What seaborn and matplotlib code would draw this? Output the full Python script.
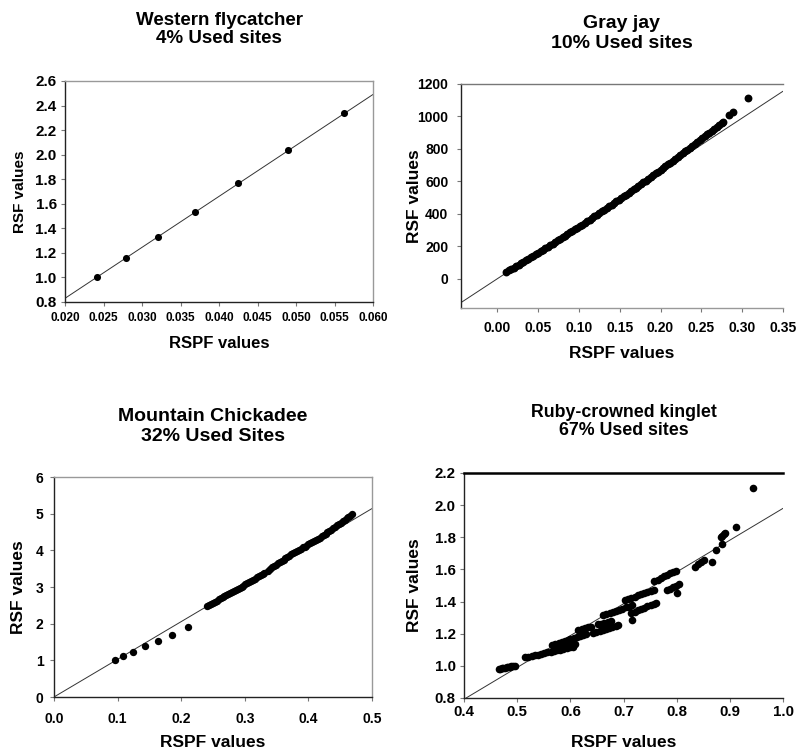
import matplotlib
matplotlib.use("Agg")
import matplotlib.pyplot as plt
import seaborn as sns
import pandas as pd

# Western flycatcher (4% used sites)
wf_rspf = [0.0241, 0.0279, 0.0321, 0.0369, 0.0425, 0.0489, 0.0562]
wf_rsf = [1.00, 1.155, 1.33, 1.53, 1.765, 2.035, 2.34]

# Gray jay (10% used sites) - dense band read along the curve, then 3 outliers
gj_rspf = [0.011, 0.014, 0.017, 0.020, 0.023, 0.026, 0.029, 0.032, 0.035, 0.038,
           0.041, 0.044, 0.047, 0.050, 0.053, 0.056, 0.059, 0.062, 0.065, 0.068,
           0.071, 0.074, 0.077, 0.080, 0.083, 0.086, 0.089, 0.092, 0.095, 0.098,
           0.101, 0.104, 0.107, 0.110, 0.113, 0.116, 0.119, 0.122, 0.125, 0.128,
           0.131, 0.134, 0.137, 0.140, 0.143, 0.146, 0.149, 0.152, 0.155, 0.158,
           0.161, 0.164, 0.167, 0.170, 0.173, 0.176, 0.179, 0.182, 0.185, 0.188,
           0.191, 0.194, 0.197, 0.200, 0.203, 0.206, 0.209, 0.212, 0.215, 0.218,
           0.221, 0.224, 0.227, 0.230, 0.233, 0.236, 0.239, 0.242, 0.245, 0.248,
           0.251, 0.254, 0.257, 0.260, 0.263, 0.266, 0.269, 0.272, 0.275, 0.277,
           0.284, 0.289, 0.307]
gj_rsf = [42, 51, 60, 69, 78, 87, 96, 105, 114, 123,
          133, 142, 151, 160, 170, 179, 188, 198, 207, 217,
          227, 236, 246, 255, 265, 275, 285, 294, 304, 314,
          324, 334, 344, 354, 364, 374, 384, 394, 405, 415,
          425, 436, 446, 456, 467, 477, 488, 498, 509, 519,
          530, 541, 551, 562, 573, 584, 594, 605, 616, 627,
          638, 649, 660, 671, 682, 694, 705, 716, 727, 739,
          750, 761, 773, 784, 796, 807, 819, 830, 842, 854,
          865, 877, 889, 901, 912, 924, 936, 948, 960, 968,
          1009, 1030, 1112]

# Mountain chickadee (32% used sites)
mc_rspf = [0.096, 0.109, 0.125, 0.143, 0.163, 0.186, 0.210,
           0.241, 0.244, 0.247, 0.250, 0.253, 0.256, 0.259, 0.262, 0.265, 0.268,
           0.271, 0.274, 0.277, 0.280, 0.283, 0.286, 0.289, 0.292, 0.295, 0.298,
           0.301, 0.304, 0.307, 0.310, 0.313, 0.316, 0.319, 0.322, 0.325, 0.328,
           0.331, 0.337, 0.340, 0.343, 0.346, 0.349, 0.352, 0.355, 0.358,
           0.361, 0.364, 0.367, 0.370, 0.373, 0.376, 0.379, 0.382, 0.385, 0.388,
           0.391, 0.394, 0.397, 0.400, 0.403, 0.406, 0.409, 0.412, 0.415, 0.418,
           0.421, 0.424, 0.427, 0.430, 0.433, 0.436, 0.439, 0.442, 0.445, 0.448,
           0.451, 0.454, 0.457, 0.460, 0.463, 0.466, 0.469]
mc_rsf = [1.00, 1.11, 1.24, 1.38, 1.53, 1.70, 1.90,
          2.47, 2.50, 2.53, 2.56, 2.59, 2.63, 2.66, 2.69, 2.72, 2.75,
          2.78, 2.81, 2.84, 2.87, 2.90, 2.92, 2.95, 2.98, 3.01, 3.04,
          3.07, 3.10, 3.13, 3.17, 3.20, 3.23, 3.26, 3.29, 3.32, 3.36,
          3.39, 3.45, 3.50, 3.54, 3.58, 3.61, 3.65, 3.68, 3.72,
          3.75, 3.79, 3.82, 3.85, 3.89, 3.92, 3.95, 3.98, 4.02, 4.05,
          4.08, 4.10, 4.13, 4.16, 4.19, 4.22, 4.25, 4.28, 4.31, 4.34,
          4.38, 4.42, 4.45, 4.49, 4.53, 4.56, 4.60, 4.64, 4.68, 4.72,
          4.75, 4.79, 4.83, 4.87, 4.90, 4.94, 4.98]

# Ruby-crowned kinglet (67% used sites)
rk_rspf = [0.465, 0.468, 0.471, 0.474, 0.477, 0.480, 0.483, 0.486, 0.489, 0.492, 0.495,
           0.515, 0.521, 0.527, 0.533, 0.539, 0.545, 0.551, 0.557, 0.563, 0.569,
           0.575, 0.581, 0.587, 0.593, 0.599, 0.605,
           0.566, 0.572, 0.578, 0.584, 0.590, 0.596,
           0.572, 0.578, 0.584, 0.590, 0.596, 0.602, 0.609,
           0.600, 0.606, 0.612, 0.618, 0.624, 0.630,
           0.615, 0.621, 0.627, 0.633, 0.639,
           0.643, 0.649, 0.655, 0.661, 0.667, 0.673, 0.679, 0.685, 0.690,
           0.652, 0.658, 0.664, 0.670, 0.676,
           0.662, 0.668, 0.674, 0.680, 0.686, 0.692, 0.698, 0.704, 0.710, 0.716,
           0.715, 0.721, 0.727, 0.733, 0.739, 0.745, 0.751, 0.757, 0.762, 0.716,
           0.703, 0.709, 0.715, 0.721, 0.727, 0.733, 0.739, 0.745, 0.751, 0.757,
           0.758, 0.764, 0.770, 0.776, 0.782, 0.788, 0.794, 0.798,
           0.781, 0.787, 0.793, 0.799, 0.805, 0.801,
           0.834, 0.840, 0.846, 0.852, 0.867, 0.874, 0.885,
           0.883, 0.886, 0.889, 0.891, 0.912, 0.944]
rk_rsf = [0.980, 0.982, 0.984, 0.986, 0.988, 0.990, 0.992, 0.994, 0.996, 0.998, 1.000,
          1.055, 1.058, 1.062, 1.066, 1.070, 1.074, 1.078, 1.083, 1.088, 1.092,
          1.097, 1.101, 1.106, 1.110, 1.115, 1.120,
          1.130, 1.136, 1.142, 1.148, 1.153, 1.158,
          1.112, 1.118, 1.124, 1.130, 1.136, 1.142, 1.135,
          1.165, 1.172, 1.178, 1.184, 1.190, 1.195,
          1.222, 1.228, 1.234, 1.240, 1.244,
          1.205, 1.210, 1.216, 1.222, 1.228, 1.234, 1.240, 1.246, 1.252,
          1.258, 1.263, 1.268, 1.273, 1.279,
          1.317, 1.324, 1.330, 1.337, 1.343, 1.350, 1.356, 1.363, 1.369, 1.376,
          1.330, 1.338, 1.346, 1.354, 1.362, 1.370, 1.378, 1.385, 1.392, 1.285,
          1.410, 1.417, 1.424, 1.431, 1.438, 1.445, 1.452, 1.459, 1.466, 1.473,
          1.525, 1.536, 1.547, 1.557, 1.567, 1.577, 1.586, 1.592,
          1.470, 1.480, 1.490, 1.499, 1.507, 1.456,
          1.618, 1.632, 1.645, 1.657, 1.648, 1.723, 1.758,
          1.800, 1.810, 1.821, 1.829, 1.862, 2.108]

titles = ["Western flycatcher\n4% Used sites", "Gray jay\n10% Used sites",
          "Mountain Chickadee\n32% Used Sites", "Ruby-crowned kinglet\n67% Used sites"]
ref_slopes = [41.5, 3300, 10.28, 1.98]

sns.set_style("white")
plt.rcParams['font.family'] = ['Liberation Sans', 'DejaVu Sans']
plt.rcParams['font.weight'] = 'bold'
plt.rcParams['text.color'] = 'black'
plt.rcParams['axes.labelcolor'] = 'black'

fig = plt.figure(figsize=(7.96, 7.51), dpi=100)

panels = [
    dict(x=wf_rspf, y=wf_rsf, pos=[0.0817, 0.5979, 0.3869, 0.2943],
         xlim=(0.020, 0.060), ylim=(0.8, 2.6),
         xticks=[0.020, 0.025, 0.030, 0.035, 0.040, 0.045, 0.050, 0.055, 0.060],
         yticks=[0.8, 1.0, 1.2, 1.4, 1.6, 1.8, 2.0, 2.2, 2.4, 2.6],
         xfmt="{:.3f}", yfmt="{:.1f}", xfs=8.5, yfs=11, ylfs=11, xlfs=12, tfs=13.5,
         xpad=4, ypad=3, ylc=-0.123, xlc=-0.154, ms=26, tpad=27, ls=1.1),
    dict(x=gj_rspf, y=gj_rsf, pos=[0.5791, 0.5899, 0.4045, 0.2983],
         xlim=(-0.0445, 0.35), ylim=(-180, 1200),
         xticks=[0.0, 0.05, 0.10, 0.15, 0.20, 0.25, 0.30, 0.35],
         yticks=[0, 200, 400, 600, 800, 1000, 1200],
         xfmt="{:.2f}", yfmt="{:.0f}", xfs=10, yfs=10, ylfs=12.5, xlfs=12.5, tfs=14,
         xpad=6.5, ypad=6, ylc=-0.12, xlc=-0.168, ms=32, tpad=26, ls=1.25),
    dict(x=mc_rspf, y=mc_rsf, pos=[0.0678, 0.0719, 0.3995, 0.2929],
         xlim=(0.0, 0.5), ylim=(0, 6),
         xticks=[0.0, 0.1, 0.2, 0.3, 0.4, 0.5], yticks=[0, 1, 2, 3, 4, 5, 6],
         xfmt="{:.1f}", yfmt="{:.0f}", xfs=10, yfs=10, ylfs=12.5, xlfs=12.5, tfs=14,
         xpad=8, ypad=4.5, ylc=-0.088, xlc=-0.173, ms=28, tpad=26, ls=1.2),
    dict(x=rk_rspf, y=rk_rsf, pos=[0.5829, 0.0706, 0.4008, 0.2996],
         xlim=(0.4, 1.0), ylim=(0.8, 2.2),
         xticks=[0.4, 0.5, 0.6, 0.7, 0.8, 0.9, 1.0],
         yticks=[0.8, 1.0, 1.2, 1.4, 1.6, 1.8, 2.0, 2.2],
         xfmt="{:.1f}", yfmt="{:.1f}", xfs=10.8, yfs=10.8, ylfs=12.5, xlfs=12.5, tfs=12.8,
         xpad=2, ypad=3, ylc=-0.132, xlc=-0.164, ms=30, tpad=27, ls=1.15),
]

spine_styles = [
    dict(left=('#222222', 1.0), bottom=('#222222', 1.0), top=('#999999', 1.0), right=('#999999', 1.0)),
    dict(left=('#222222', 1.0), bottom=('#999999', 1.0), top=('#777777', 1.0), right=None),
    dict(left=('#222222', 1.0), bottom=('#222222', 1.0), top=('#999999', 1.0), right=('#999999', 1.0)),
    dict(left=('#222222', 1.0), bottom=('#222222', 1.0), top=('#000000', 1.8), right=None),
]

for i, p in enumerate(panels):
    ax = fig.add_axes(p['pos'])
    df = pd.DataFrame({'RSPF': p['x'], 'RSF': p['y']})
    # reference line through the origin (RSF proportional to RSPF)
    line_df = pd.DataFrame({'RSPF': list(p['xlim']),
                            'RSF': [ref_slopes[i] * v for v in p['xlim']]})
    sns.lineplot(data=line_df, x='RSPF', y='RSF', ax=ax, color='#333333',
                 linewidth=0.7, zorder=2)
    sns.scatterplot(data=df, x='RSPF', y='RSF', ax=ax, color='black', s=p['ms'],
                    linewidth=0, zorder=3)
    ax.set_xlim(p['xlim'])
    ax.set_ylim(p['ylim'])
    ax.set_xticks(p['xticks'])
    ax.set_yticks(p['yticks'])
    ax.set_xticklabels([p['xfmt'].format(v) for v in p['xticks']],
                       fontsize=p['xfs'], fontweight='bold')
    ax.set_yticklabels([p['yfmt'].format(v) for v in p['yticks']],
                       fontsize=p['yfs'], fontweight='bold')
    ax.tick_params(axis='x', direction='out', length=3, width=0.8, color='#777777',
                   labelcolor='black', pad=p['xpad'], bottom=True)
    ax.tick_params(axis='y', direction='out', length=3, width=0.8, color='#777777',
                   labelcolor='black', pad=p['ypad'], left=True)
    ax.set_xlabel('RSPF values', fontsize=p['xlfs'], fontweight='bold', va='top')
    ax.set_ylabel('RSF values', fontsize=p['ylfs'], fontweight='bold')
    ax.xaxis.set_label_coords(0.5, p['xlc'])
    ax.yaxis.set_label_coords(p['ylc'], 0.5)
    ax.set_title(titles[i], fontsize=p['tfs'], fontweight='bold', pad=p['tpad'],
                 linespacing=p['ls'])
    for side, st in spine_styles[i].items():
        if st is None:
            ax.spines[side].set_visible(False)
        else:
            ax.spines[side].set_color(st[0])
            ax.spines[side].set_linewidth(st[1])
    ax.grid(False)

fig.savefig('out.png', dpi=100)
